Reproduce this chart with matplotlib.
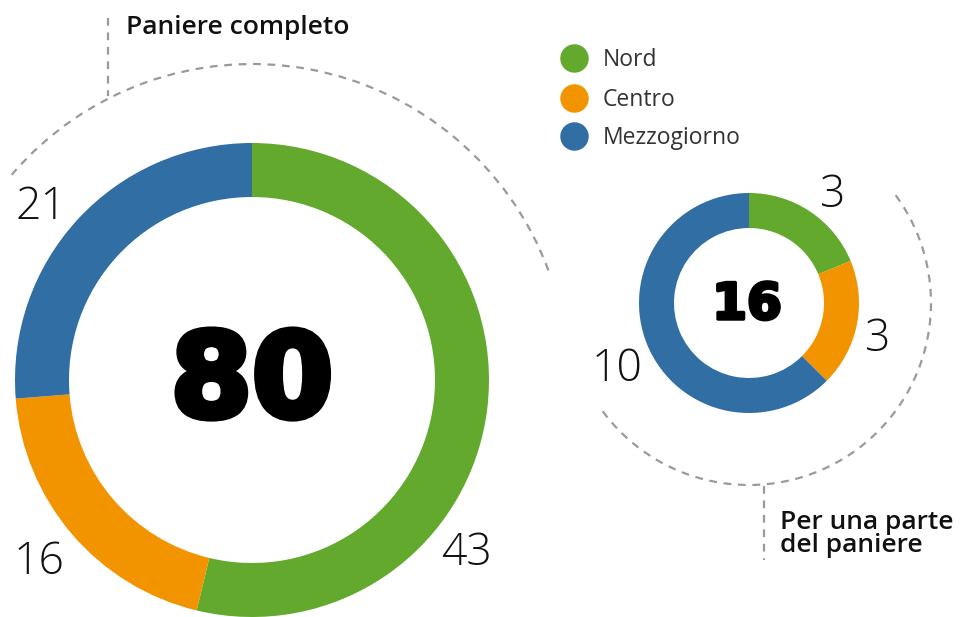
import matplotlib
matplotlib.use("Agg")
import matplotlib.pyplot as plt
import matplotlib.patheffects as pe
import numpy as np
from matplotlib.patches import Arc

categories = ["Nord", "Centro", "Mezzogiorno"]
full_values = [43, 16, 21]
partial_values = [3, 3, 10]
full_total = 80
partial_total = 16
colors = ["#63a92e", "#f29400", "#316ea3"]

W, H = 960, 617
fig = plt.figure(figsize=(9.6, 6.17), dpi=100)
ax = fig.add_axes([0, 0, 1, 1])

def Y(y):
    return H - y

# big donut
c1 = (252, Y(380)); R1 = 237; w1 = 54
ax.pie(full_values, colors=colors, startangle=90, counterclock=False,
       center=c1, radius=R1, wedgeprops=dict(width=w1, linewidth=0))
# small donut
c2 = (749, Y(303)); R2 = 110; w2 = 35
ax.pie(partial_values, colors=colors, startangle=90, counterclock=False,
       center=c2, radius=R2, wedgeprops=dict(width=w2, linewidth=0))

ax.set_xlim(0, W)
ax.set_ylim(0, H)
ax.set_aspect('equal')
ax.axis('off')

dash = dict(color="#9a9a9a", lw=1.6, linestyle=(0, (3.5, 3)))
# dashed arcs
ax.add_patch(Arc(c1, 2 * 316, 2 * 316, theta1=20.3, theta2=139.5, **dash))
ax.add_patch(Arc(c2, 2 * 182, 2 * 182, theta1=216.5, theta2=397.4, **dash))
ax.plot([108, 108], [Y(18), Y(96)], **dash)
ax.plot([764, 764], [Y(486), Y(560)], **dash)

num_font = dict(family="Open Sans", fontweight="light", color="#111111", fontsize=32)
# big labels
ax.text(41, Y(208), str(full_values[2]), ha="center", va="center", **num_font)
ax.text(39, Y(563), str(full_values[1]), ha="center", va="center", **num_font)
ax.text(466, Y(554), str(full_values[0]), ha="center", va="center", **num_font)
# small labels
ax.text(833, Y(196), str(partial_values[0]), ha="center", va="center", **num_font)
ax.text(878, Y(340), str(partial_values[1]), ha="center", va="center", **num_font)
ax.text(617, Y(370), str(partial_values[2]), ha="center", va="center", **num_font)

# totals
ax.text(252, Y(384), str(full_total), ha="center", va="center",
        family="DejaVu Sans", fontweight="bold", fontsize=84, color="black",
        path_effects=[pe.withStroke(linewidth=5, foreground="black")])
ax.text(747, Y(305), str(partial_total), ha="center", va="center",
        family="DejaVu Sans", fontweight="bold", fontsize=36, color="black",
        path_effects=[pe.withStroke(linewidth=2.5, foreground="black")])

title_font = dict(family="Open Sans", fontweight="semibold", fontsize=19, color="#111111")
ax.text(126, Y(28), "Paniere completo", ha="left", va="center", **title_font)
ax.text(780, Y(534), "Per una parte\ndel paniere", ha="left", va="center",
        linespacing=0.88, **title_font)

# legend
for i, (cat, col) in enumerate(zip(categories, colors)):
    yy = [58, 98, 136][i]
    ax.scatter([574], [Y(yy)], s=420, color=col, linewidths=0)
    ax.text(603, Y(yy + 2), cat, ha="left", va="center", family="Open Sans",
            fontsize=16.5, color="#333333")

fig.savefig("out.png", dpi=100)
